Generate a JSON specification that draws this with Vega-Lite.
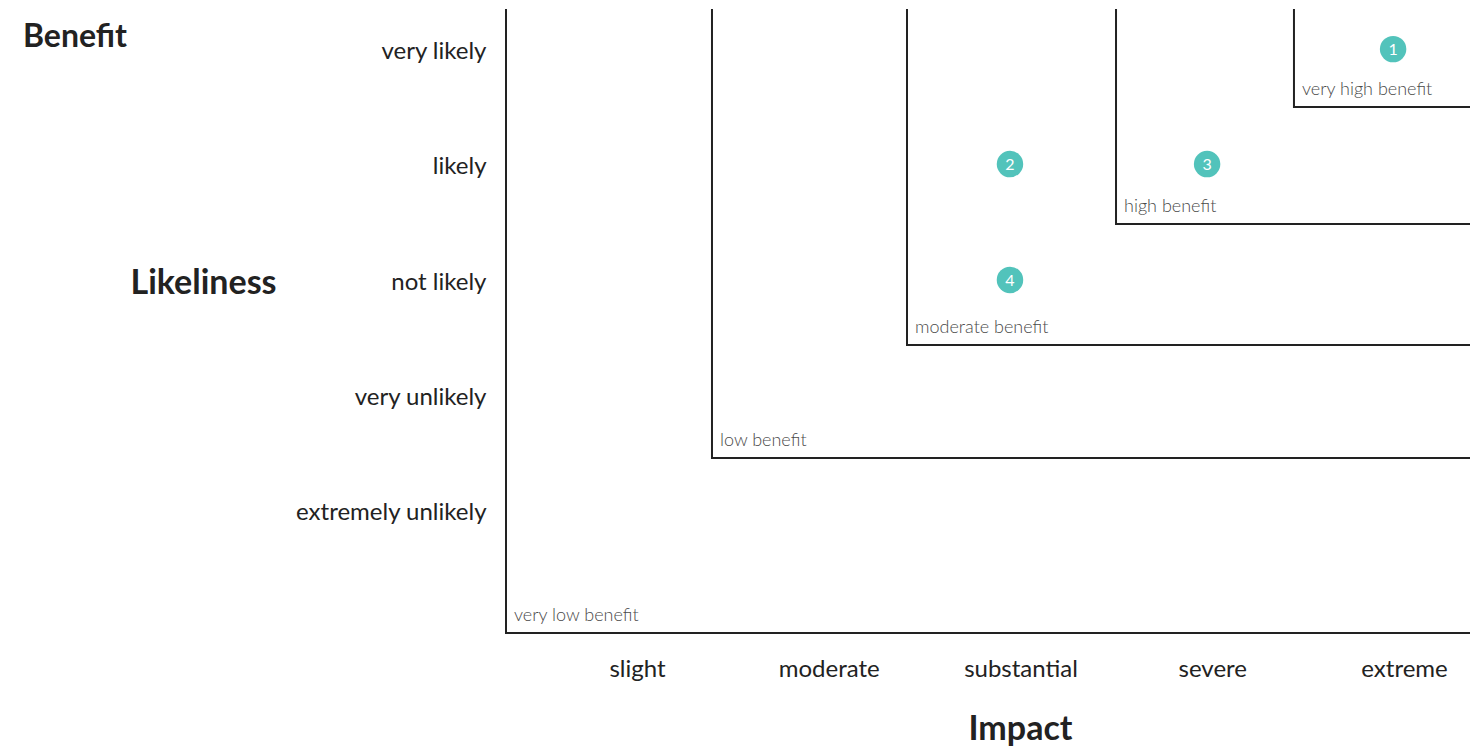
{
  "$schema": "https://vega.github.io/schema/vega-lite/v6.json",
  "width": 964,
  "height": 623,
  "autosize": {"type": "none"},
  "padding": {"left": 506, "top": 10, "right": 0, "bottom": 117},
  "background": "white",
  "title": {"text": "Benefit", "anchor": "start", "frame": "group", "font": "Lato", "fontSize": 32, "fontWeight": "bold", "color": "#222222", "baseline": "middle", "dx": -483, "dy": 63, "offset": 0},
  "config": {"view": {"stroke": null}, "font": "Lato"},
  "datasets": {
    "bands": [
      {"benefit": "very low benefit", "ord": 1, "impact": 0.3168, "likeliness": 5.359},
      {"benefit": "very low benefit", "ord": 2, "impact": 0.3168, "likeliness": -0.04},
      {"benefit": "very low benefit", "ord": 3, "impact": 5.344, "likeliness": -0.04},
      {"benefit": "low benefit", "ord": 1, "impact": 1.391, "likeliness": 5.359},
      {"benefit": "low benefit", "ord": 2, "impact": 1.391, "likeliness": 1.477},
      {"benefit": "low benefit", "ord": 3, "impact": 5.344, "likeliness": 1.477},
      {"benefit": "moderate benefit", "ord": 1, "impact": 2.408, "likeliness": 5.359},
      {"benefit": "moderate benefit", "ord": 2, "impact": 2.408, "likeliness": 2.456},
      {"benefit": "moderate benefit", "ord": 3, "impact": 5.344, "likeliness": 2.456},
      {"benefit": "high benefit", "ord": 1, "impact": 3.498, "likeliness": 5.359},
      {"benefit": "high benefit", "ord": 2, "impact": 3.498, "likeliness": 3.504},
      {"benefit": "high benefit", "ord": 3, "impact": 5.344, "likeliness": 3.504},
      {"benefit": "very high benefit", "ord": 1, "impact": 4.426, "likeliness": 5.359},
      {"benefit": "very high benefit", "ord": 2, "impact": 4.426, "likeliness": 4.518},
      {"benefit": "very high benefit", "ord": 3, "impact": 5.344, "likeliness": 4.518}
    ],
    "corners": [
      {"benefit": "very low benefit", "impact": 0.3168, "likeliness": -0.04},
      {"benefit": "low benefit", "impact": 1.391, "likeliness": 1.477},
      {"benefit": "moderate benefit", "impact": 2.408, "likeliness": 2.456},
      {"benefit": "high benefit", "impact": 3.498, "likeliness": 3.504},
      {"benefit": "very high benefit", "impact": 4.426, "likeliness": 4.518}
    ],
    "items": [
      {"id": "1", "impact": 4.943, "likeliness": 5.02},
      {"id": "2", "impact": 2.945, "likeliness": 4.024},
      {"id": "3", "impact": 3.973, "likeliness": 4.024},
      {"id": "4", "impact": 2.945, "likeliness": 3.02}
    ]
  },
  "layer": [
    {
      "data": {"name": "bands"},
      "mark": {"type": "line", "color": "#222222", "strokeWidth": 2, "strokeJoin": "miter", "strokeCap": "square"},
      "encoding": {
        "x": {"field": "impact", "type": "quantitative", "scale": {"domain": [0.3168, 5.344], "nice": false, "zero": false},
          "axis": {"values": [1, 2, 3, 4, 5], "labelExpr": "['', 'slight', 'moderate', 'substantial', 'severe', 'extreme'][datum.value]", "labelFontSize": 24, "labelColor": "#222222", "labelFont": "Lato", "labelLimit": 400, "ticks": false, "tickSize": 0, "domain": false, "grid": false, "labelPadding": 24, "labelFlush": false, "labelOverlap": false,
            "title": "Impact", "titleFont": "Lato", "titleFontSize": 34, "titleFontWeight": "bold", "titleColor": "#222222", "titleX": 514, "titleY": 96, "titleBaseline": "middle", "titleAlign": "center"}},
        "y": {"field": "likeliness", "type": "quantitative", "scale": {"domain": [-0.04, 5.359], "nice": false, "zero": false},
          "axis": {"values": [1, 2, 3, 4, 5], "labelExpr": "['', 'extremely unlikely', 'very unlikely', 'not likely', 'likely', 'very likely'][datum.value]", "labelFontSize": 24, "labelColor": "#222222", "labelFont": "Lato", "labelLimit": 400, "ticks": false, "tickSize": 0, "domain": false, "grid": false, "labelPadding": 20, "labelOverlap": false, "labelBaseline": "middle",
            "title": "Likeliness", "titleFont": "Lato", "titleFontSize": 34, "titleFontWeight": "bold", "titleColor": "#222222", "titleAngle": 0, "titleX": -303, "titleY": 273, "titleBaseline": "middle", "titleAlign": "center"}},
        "detail": {"field": "benefit"},
        "order": {"field": "ord", "type": "quantitative"}
      }
    },
    {
      "data": {"name": "corners"},
      "mark": {"type": "text", "align": "left", "baseline": "alphabetic", "dx": 8, "dy": -12, "fontSize": 18, "fontWeight": 300, "color": "#4a4a4a", "font": "Lato"},
      "encoding": {
        "x": {"field": "impact", "type": "quantitative"},
        "y": {"field": "likeliness", "type": "quantitative"},
        "text": {"field": "benefit"}
      }
    },
    {
      "data": {"name": "items"},
      "mark": {"type": "circle", "size": 700, "color": "#52c3bb", "opacity": 1},
      "encoding": {
        "x": {"field": "impact", "type": "quantitative"},
        "y": {"field": "likeliness", "type": "quantitative"}
      }
    },
    {
      "data": {"name": "items"},
      "mark": {"type": "text", "align": "center", "baseline": "middle", "fontSize": 16, "color": "white", "font": "Lato", "dy": 1},
      "encoding": {
        "x": {"field": "impact", "type": "quantitative"},
        "y": {"field": "likeliness", "type": "quantitative"},
        "text": {"field": "id"}
      }
    }
  ]
}
